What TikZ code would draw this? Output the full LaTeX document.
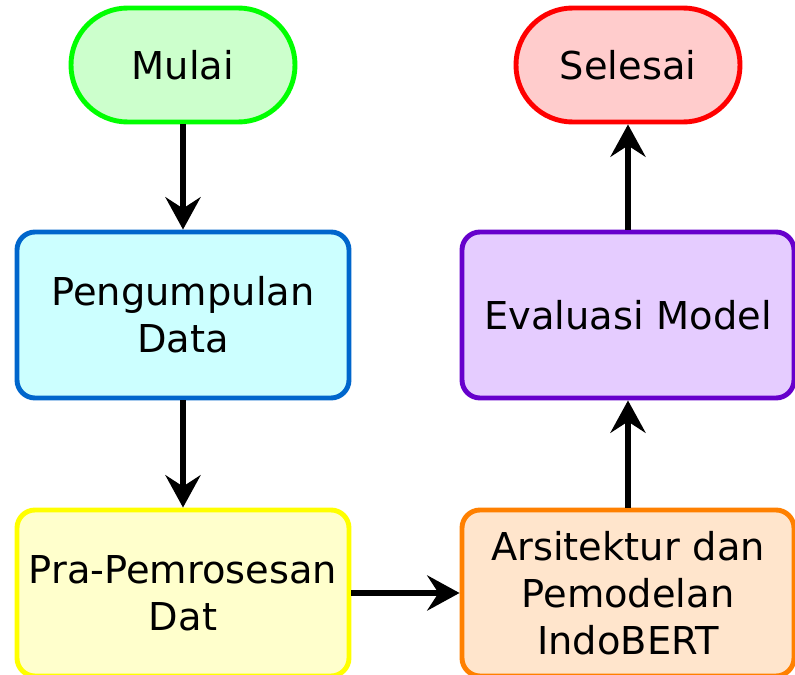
\documentclass[tikz,border=0pt]{standalone}
\usepackage{fontspec}
\setmainfont{DejaVu Sans}
\usetikzlibrary{arrows.meta}
\definecolor{hijauisi}{HTML}{CCFFCC}
\definecolor{hijaugaris}{HTML}{00FF00}
\definecolor{merahisi}{HTML}{FFCCCC}
\definecolor{biruisi}{HTML}{CCFFFF}
\definecolor{birugaris}{HTML}{0066CC}
\definecolor{unguisi}{HTML}{E5CCFF}
\definecolor{ungugaris}{HTML}{6600CC}
\definecolor{kuningisi}{HTML}{FFFFCC}
\definecolor{kuninggaris}{HTML}{FFFF00}
\definecolor{oranyeisi}{HTML}{FFE5CC}
\definecolor{oranyegaris}{HTML}{FF8000}
\begin{document}
\begin{tikzpicture}[
  terminal/.style={draw, line width=3.5pt, rounded corners=1.42cm,
    minimum width=5.6cm, minimum height=2.85cm},
  proses/.style={draw, line width=3.5pt, rounded corners=0.45cm, align=center,
    minimum width=8.3cm, minimum height=4.15cm, text width=8cm},
  panah/.style={line width=3.6pt, -{Stealth[length=23pt, width=25pt, inset=8pt]}},
  font=\fontsize{27.3}{33.5}\selectfont]
  \useasboundingbox (0,0) rectangle (19.875,16.875);

  % awal dan akhir
  \node[terminal, fill=hijauisi, draw=hijaugaris] (mulai) at (4.575,15.25) {Mulai};
  \node[terminal, fill=merahisi, draw=red] (selesai) at (15.7,15.25) {Selesai};

  % tahapan
  \node[proses, fill=biruisi, draw=birugaris] (kumpul) at (4.575,9.0) {Pengumpulan\\Data};
  \node[proses, fill=unguisi, draw=ungugaris] (evaluasi) at (15.7,9.0) {Evaluasi Model};
  \node[proses, fill=kuningisi, draw=kuninggaris] (praproses) at (4.575,2.05) {Pra-Pemrosesan\\Dat};
  \node[proses, fill=oranyeisi, draw=oranyegaris] (model) at (15.7,2.05) {Arsitektur dan\\Pemodelan\\IndoBERT};

  % alur
  \draw[panah] (mulai) -- (kumpul);
  \draw[panah] (kumpul) -- (praproses);
  \draw[panah] (praproses) -- (model);
  \draw[panah] (model) -- (evaluasi);
  \draw[panah] (evaluasi) -- (selesai);
\end{tikzpicture}
\end{document}
